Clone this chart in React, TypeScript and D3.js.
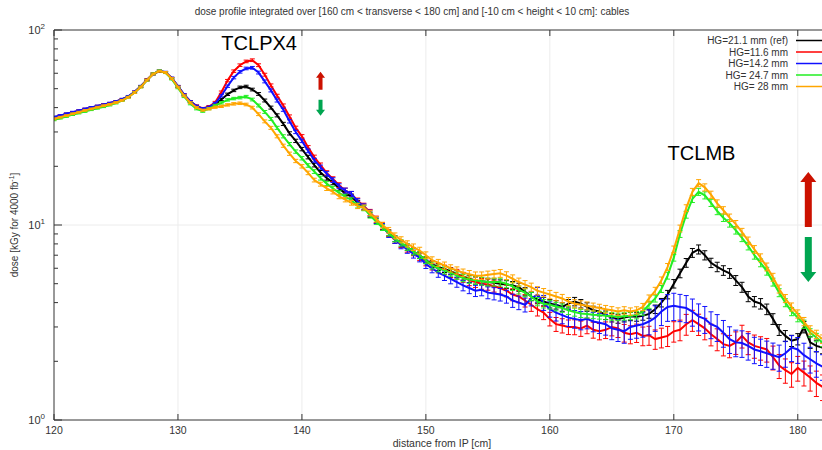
import React from "react";
import * as d3 from "d3";

// ---------- data ----------
const xStart = 120;
const xStep = 0.5;

const seriesNames = ["HG=21.1 mm (ref)", "HG=11.6 mm", "HG=14.2 mm", "HG= 24.7 mm", "HG= 28 mm"];

const refVals = [
  35.5, 36.2, 37.0, 37.7, 38.4, 39.2, 39.9, 40.6, 41.3, 42.0, 42.9, 44.0, 45.5, 48.0, 51.3, 55.5, 59.5, 61.5, 60.5, 56.5, 51.3, 46.4, 42.9, 40.6, 39.4,
  40.0, 41.5, 44.0, 46.8, 49.0, 50.8, 51.3, 49.5, 47.0, 43.5, 40.0, 36.5, 33.0, 29.5, 27.0, 24.5, 22.3, 20.3, 18.6, 17.4, 16.5, 15.4, 14.5, 14.0, 13.0, 12.3,
  11.3, 10.5, 9.8, 9.1, 8.5, 8.0, 7.7, 7.3, 7.0, 6.6, 6.3, 6.1, 5.95, 5.8, 5.6, 5.45, 5.3, 5.2, 5.15, 5.1, 5.05, 5.0,
  4.95, 4.9, 4.8, 4.55, 4.3, 4.15, 4.05, 3.95, 3.9, 3.8, 3.95, 4.05, 3.95, 3.8, 3.65, 3.6, 3.45, 3.35, 3.3, 3.35, 3.4, 3.38, 3.42, 3.5, 3.7, 4.0,
  4.4, 5.0, 5.65, 6.4, 7.2, 7.5, 7.0, 6.4, 6.1, 5.85, 5.65, 5.2, 4.8, 4.3, 4.05, 3.95, 3.7, 3.3, 2.9, 2.7, 2.55, 2.6, 3.0, 2.5, 2.4, 2.35,
];
const hg116Vals = [
  35.6, 36.3, 37.1, 37.8, 38.5, 39.3, 40.0, 40.7, 41.4, 42.1, 43.0, 44.1, 45.6, 48.1, 51.4, 55.6, 59.6, 61.6, 60.6, 56.6, 51.4, 46.5, 43.0, 40.8, 39.6,
  40.5, 42.5, 48.0, 55.0, 61.5, 66.0, 69.0, 70.0, 66.0, 59.0, 52.0, 46.0, 41.0, 36.0, 31.5, 28.5, 25.0, 22.3, 20.3, 18.5, 17.2, 16.0, 15.0, 14.4, 13.3, 12.5,
  11.6, 10.7, 9.9, 9.1, 8.4, 8.0, 7.6, 7.3, 6.9, 6.5, 6.2, 6.0, 5.9, 5.7, 5.6, 5.4, 5.2, 5.1, 5.0, 4.95, 4.85, 4.75,
  4.6, 4.4, 4.3, 4.1, 3.9, 3.7, 3.55, 3.3, 3.1, 3.05, 3.0, 3.0, 2.95, 3.05, 2.9, 2.85, 2.9, 3.0, 2.95, 2.8, 2.75, 2.8, 2.7, 2.72, 2.6, 2.65,
  2.7, 2.85, 2.9, 3.1, 3.25, 3.1, 2.95, 2.75, 2.6, 2.45, 2.4, 2.5, 2.7, 2.5, 2.4, 2.35, 2.3, 2.1, 1.9, 1.8, 1.72, 1.85, 1.75, 1.65, 1.55, 1.48,
];
const hg142Vals = [
  35.8, 36.4, 37.2, 37.9, 38.6, 39.4, 40.1, 40.8, 41.4, 42.2, 43.0, 44.2, 45.7, 48.2, 51.5, 55.4, 59.4, 61.8, 60.8, 56.8, 51.5, 46.6, 43.0, 40.7, 39.5,
  40.2, 42.0, 46.0, 51.5, 57.0, 61.0, 63.5, 64.0, 60.5, 54.5, 49.0, 43.5, 39.0, 34.0, 30.0, 27.0, 24.0, 21.5, 19.8, 18.3, 17.0, 15.8, 15.0, 14.4, 13.2, 12.4,
  11.5, 10.6, 9.8, 9.0, 8.4, 7.9, 7.5, 7.1, 6.8, 6.3, 6.0, 5.7, 5.5, 5.3, 5.1, 4.9, 4.75, 4.6, 4.65, 4.5, 4.45, 4.4,
  4.3, 4.1, 4.0, 3.9, 4.2, 4.4, 4.0, 3.7, 3.55, 3.45, 3.35, 3.3, 3.25, 3.3, 3.2, 3.15, 3.1, 2.95, 2.9, 2.85, 3.0, 3.05, 3.1, 3.2, 3.35, 3.6,
  3.8, 3.85, 3.8, 3.75, 3.6, 3.4, 3.3, 3.1, 3.0, 2.8, 2.6, 2.5, 2.48, 2.4, 2.3, 2.25, 2.2, 2.15, 2.1, 2.2, 2.35, 2.3, 2.15, 2.05, 1.95, 1.88,
];
const hg247Vals = [
  34.6, 35.3, 36.0, 36.8, 37.5, 38.2, 39.0, 39.7, 40.4, 41.2, 42.2, 43.5, 45.2, 47.8, 51.0, 55.2, 59.6, 61.8, 60.4, 56.0, 50.5, 45.5, 41.8, 39.4, 38.3,
  39.5, 41.0, 42.3, 43.8, 44.5, 45.0, 45.5, 44.0, 41.0, 38.0, 35.0, 31.5, 28.5, 26.0, 23.8, 22.0, 20.2, 18.8, 17.4, 16.3, 15.4, 14.6, 14.0, 13.4, 12.6, 12.2,
  11.2, 10.4, 9.7, 9.1, 8.5, 8.1, 7.7, 7.3, 7.0, 6.6, 6.2, 6.0, 5.85, 5.7, 5.5, 5.35, 5.25, 5.2, 5.15, 5.1, 5.1, 5.1,
  5.0, 4.85, 4.65, 4.5, 4.3, 4.05, 3.95, 3.9, 3.82, 3.75, 3.65, 3.58, 3.52, 3.5, 3.47, 3.45, 3.42, 3.4, 3.38, 3.4, 3.42, 3.45, 3.6, 3.9, 4.2, 4.7,
  5.5, 6.8, 9.0, 11.3, 13.6, 14.8, 14.2, 13.0, 11.8, 10.9, 10.2, 9.4, 8.6, 7.8, 7.0, 6.4, 5.8, 5.1, 4.5, 4.0, 3.6, 3.35, 3.1, 2.8, 2.65, 2.5,
];
const hg28Vals = [
  35.0, 35.7, 36.4, 37.2, 37.9, 38.7, 39.4, 40.2, 40.9, 41.6, 42.5, 43.6, 45.2, 47.8, 51.0, 55.3, 59.5, 61.6, 60.6, 56.4, 51.0, 46.0, 42.4, 40.0, 38.8,
  39.4, 40.2, 40.6, 41.3, 41.8, 42.1, 41.5, 40.0, 37.0, 34.0, 31.5, 28.5, 25.5, 23.2, 21.3, 20.0, 18.5, 17.0, 16.2, 15.4, 14.8, 14.0, 13.5, 13.0, 12.5, 12.3,
  11.5, 10.7, 10.0, 9.4, 8.8, 8.4, 8.0, 7.7, 7.4, 7.0, 6.6, 6.4, 6.2, 6.0, 5.85, 5.7, 5.6, 5.5, 5.5, 5.55, 5.6, 5.65,
  5.5, 5.3, 5.1, 4.95, 4.8, 4.6, 4.5, 4.4, 4.3, 4.2, 4.05, 3.95, 3.9, 3.85, 3.8, 3.75, 3.7, 3.65, 3.6, 3.65, 3.6, 3.65, 3.8, 4.2, 4.6, 5.2,
  6.1, 7.5, 9.6, 12.2, 14.8, 16.4, 15.6, 14.3, 12.9, 11.9, 10.9, 10.1, 9.2, 8.3, 7.5, 6.8, 6.1, 5.4, 4.7, 4.2, 3.8, 3.5, 3.2, 2.9, 2.75, 2.6,
];

// relative statistical errors, read at these positions
const errX = [120, 130, 140, 150, 160, 170, 182];
const refErr = [0.01, 0.01, 0.02, 0.04, 0.05, 0.05, 0.07];
const hg116Err = [0.01, 0.01, 0.02, 0.05, 0.08, 0.12, 0.15];
const hg142Err = [0.01, 0.01, 0.02, 0.05, 0.09, 0.16, 0.15];
const hg247Err = [0.01, 0.01, 0.02, 0.04, 0.05, 0.04, 0.05];
const hg28Err = [0.01, 0.01, 0.02, 0.04, 0.05, 0.04, 0.05];

const xTicks = [120, 130, 140, 150, 160, 170, 180];
const yDecades = [0, 1, 2];

const colors = ["#000000", "#ff0000", "#1010ff", "#22ee22", "#ffa500"];

// ---------- layout ----------
const W = 822;
const H = 450;
const L = 54;
const T = 30;
const B = 420;
const R = 830;

const x = d3.scaleLinear().domain([120, 182.6]).range([L, R]);
const y = d3.scaleLog().domain([1, 100]).range([B, T]);

const series = [
  { name: seriesNames[0], vals: refVals, err: refErr, color: colors[0] },
  { name: seriesNames[1], vals: hg116Vals, err: hg116Err, color: colors[1] },
  { name: seriesNames[2], vals: hg142Vals, err: hg142Err, color: colors[2] },
  { name: seriesNames[3], vals: hg247Vals, err: hg247Err, color: colors[3] },
  { name: seriesNames[4], vals: hg28Vals, err: hg28Err, color: colors[4] },
];

const errScale = (e: number[]) => d3.scaleLinear().domain(errX).range(e).clamp(true);

const line = d3
  .line<[number, number]>()
  .x((d) => x(d[0]))
  .y((d) => y(d[1]));

function Arrow({ cx, from, to, shaftW, headW, headH, color }: any) {
  const xc = x(cx);
  const yb = y(from);
  const yt = y(to);
  const dir = yt < yb ? -1 : 1;
  const yh = yt - dir * headH;
  const p = [
    [xc - shaftW / 2, yb],
    [xc - shaftW / 2, yh],
    [xc - headW / 2, yh],
    [xc, yt],
    [xc + headW / 2, yh],
    [xc + shaftW / 2, yh],
    [xc + shaftW / 2, yb],
  ];
  return <polygon points={p.map((q) => q.join(",")).join(" ")} fill={color} />;
}

export default function App() {
  const font = "'Liberation Sans', Arial, sans-serif";
  const minorVals: number[] = [];
  yDecades.slice(0, -1).forEach((dd) => {
    for (let k = 2; k <= 9; k++) minorVals.push(k * Math.pow(10, dd));
  });

  return (
    <svg
      width={W}
      height={H}
      style={{ position: "fixed", left: 0, top: 0, background: "#fff" }}
      fontFamily={font}
    >
      <rect x={0} y={0} width={W} height={H} fill="#fff" />
      <defs>
        <clipPath id="plotclip">
          <rect x={L} y={T} width={R - L} height={B - T} />
        </clipPath>
      </defs>

      {/* grid */}
      {xTicks.slice(1).map((t) => (
        <line key={"gx" + t} x1={x(t)} x2={x(t)} y1={T} y2={B} stroke="#ececec" strokeWidth={1} />
      ))}
      <line x1={L} x2={R} y1={y(10)} y2={y(10)} stroke="#ececec" strokeWidth={1} />

      {/* title */}
      <text x={412} y={15} fontSize={10} textAnchor="middle" fill="#333">
        dose profile integrated over [160 cm &lt; transverse &lt; 180 cm] and [-10 cm &lt; height &lt; 10 cm]: cables
      </text>

      {/* data */}
      <g clipPath="url(#plotclip)">
        {series.map((s, si) => {
          const es = errScale(s.err);
          const pts: [number, number][] = s.vals.map((v, i) => [xStart + i * xStep, v]);
          return (
            <g key={si}>
              {pts.map((p, i) => {
                const e = es(p[0]) * p[1];
                const px = x(p[0]);
                const y1 = y(p[1] + e);
                const y2 = y(Math.max(p[1] - e, 0.01));
                return (
                  <g key={i} stroke={s.color} strokeWidth={1}>
                    <line x1={px} x2={px} y1={y1} y2={y2} />
                    <line x1={px - 2.5} x2={px + 2.5} y1={y1} y2={y1} />
                    <line x1={px - 2.5} x2={px + 2.5} y1={y2} y2={y2} />
                  </g>
                );
              })}
              <path d={line(pts) || ""} fill="none" stroke={s.color} strokeWidth={2} />
            </g>
          );
        })}
      </g>

      {/* frame */}
      <line x1={L} x2={L} y1={T} y2={B} stroke="#333" strokeWidth={1} />
      <line x1={L} x2={W} y1={B} y2={B} stroke="#333" strokeWidth={1} />
      <line x1={L} x2={W} y1={T} y2={T} stroke="#333" strokeWidth={1} />

      {/* x ticks */}
      {xTicks.map((t) => (
        <g key={"xt" + t}>
          <line x1={x(t)} x2={x(t)} y1={B} y2={B - 6} stroke="#333" />
          <line x1={x(t)} x2={x(t)} y1={T} y2={T + 6} stroke="#333" />
          <text x={x(t)} y={B + 14} fontSize={10.5} textAnchor="middle" fill="#333">
            {t}
          </text>
        </g>
      ))}
      <text x={442} y={447} fontSize={10.5} textAnchor="middle" fill="#333">
        distance from IP [cm]
      </text>

      {/* y ticks */}
      {yDecades.map((dd) => (
        <g key={"yt" + dd}>
          <line x1={L} x2={L + 8} y1={y(Math.pow(10, dd))} y2={y(Math.pow(10, dd))} stroke="#333" />
          <text x={L - 9} y={y(Math.pow(10, dd)) + 4} fontSize={11} textAnchor="end" fill="#333">
            10
            <tspan dy={-5} fontSize={8}>
              {dd}
            </tspan>
          </text>
        </g>
      ))}
      {minorVals.map((v) => (
        <line key={"ym" + v} x1={L} x2={L + 4} y1={y(v)} y2={y(v)} stroke="#333" />
      ))}
      <text
        transform={`translate(18,${(T + B) / 2}) rotate(-90)`}
        fontSize={10}
        textAnchor="middle"
        fill="#333"
      >
        dose [kGy for 4000 fb
        <tspan dy={-4} fontSize={7}>
          -1
        </tspan>
        <tspan dy={4}>]</tspan>
      </text>

      {/* legend */}
      {series.map((s, i) => (
        <g key={"lg" + i}>
          <text x={788} y={44 + i * 11.5} fontSize={10} textAnchor="end" fill="#333">
            {s.name}
          </text>
          <line x1={796} x2={822} y1={40.5 + i * 11.5} y2={40.5 + i * 11.5} stroke={s.color} strokeWidth={1.5} />
        </g>
      ))}

      {/* annotations */}
      <text x={x(133.5)} y={y(79)} fontSize={20} fill="#000">
        TCLPX4
      </text>
      <text x={x(169.5)} y={y(21.5)} fontSize={20} fill="#000">
        TCLMB
      </text>
      <Arrow cx={141.5} from={49.4} to={61} shaftW={4} headW={9} headH={6} color="#cc1100" />
      <Arrow cx={141.5} from={43.9} to={36.3} shaftW={4} headW={9} headH={6} color="#00a550" />
      <Arrow cx={180.85} from={9.77} to={18.7} shaftW={7} headW={16} headH={10} color="#cc1100" />
      <Arrow cx={180.85} from={8.67} to={5.1} shaftW={7} headW={16} headH={10} color="#00a550" />
    </svg>
  );
}
